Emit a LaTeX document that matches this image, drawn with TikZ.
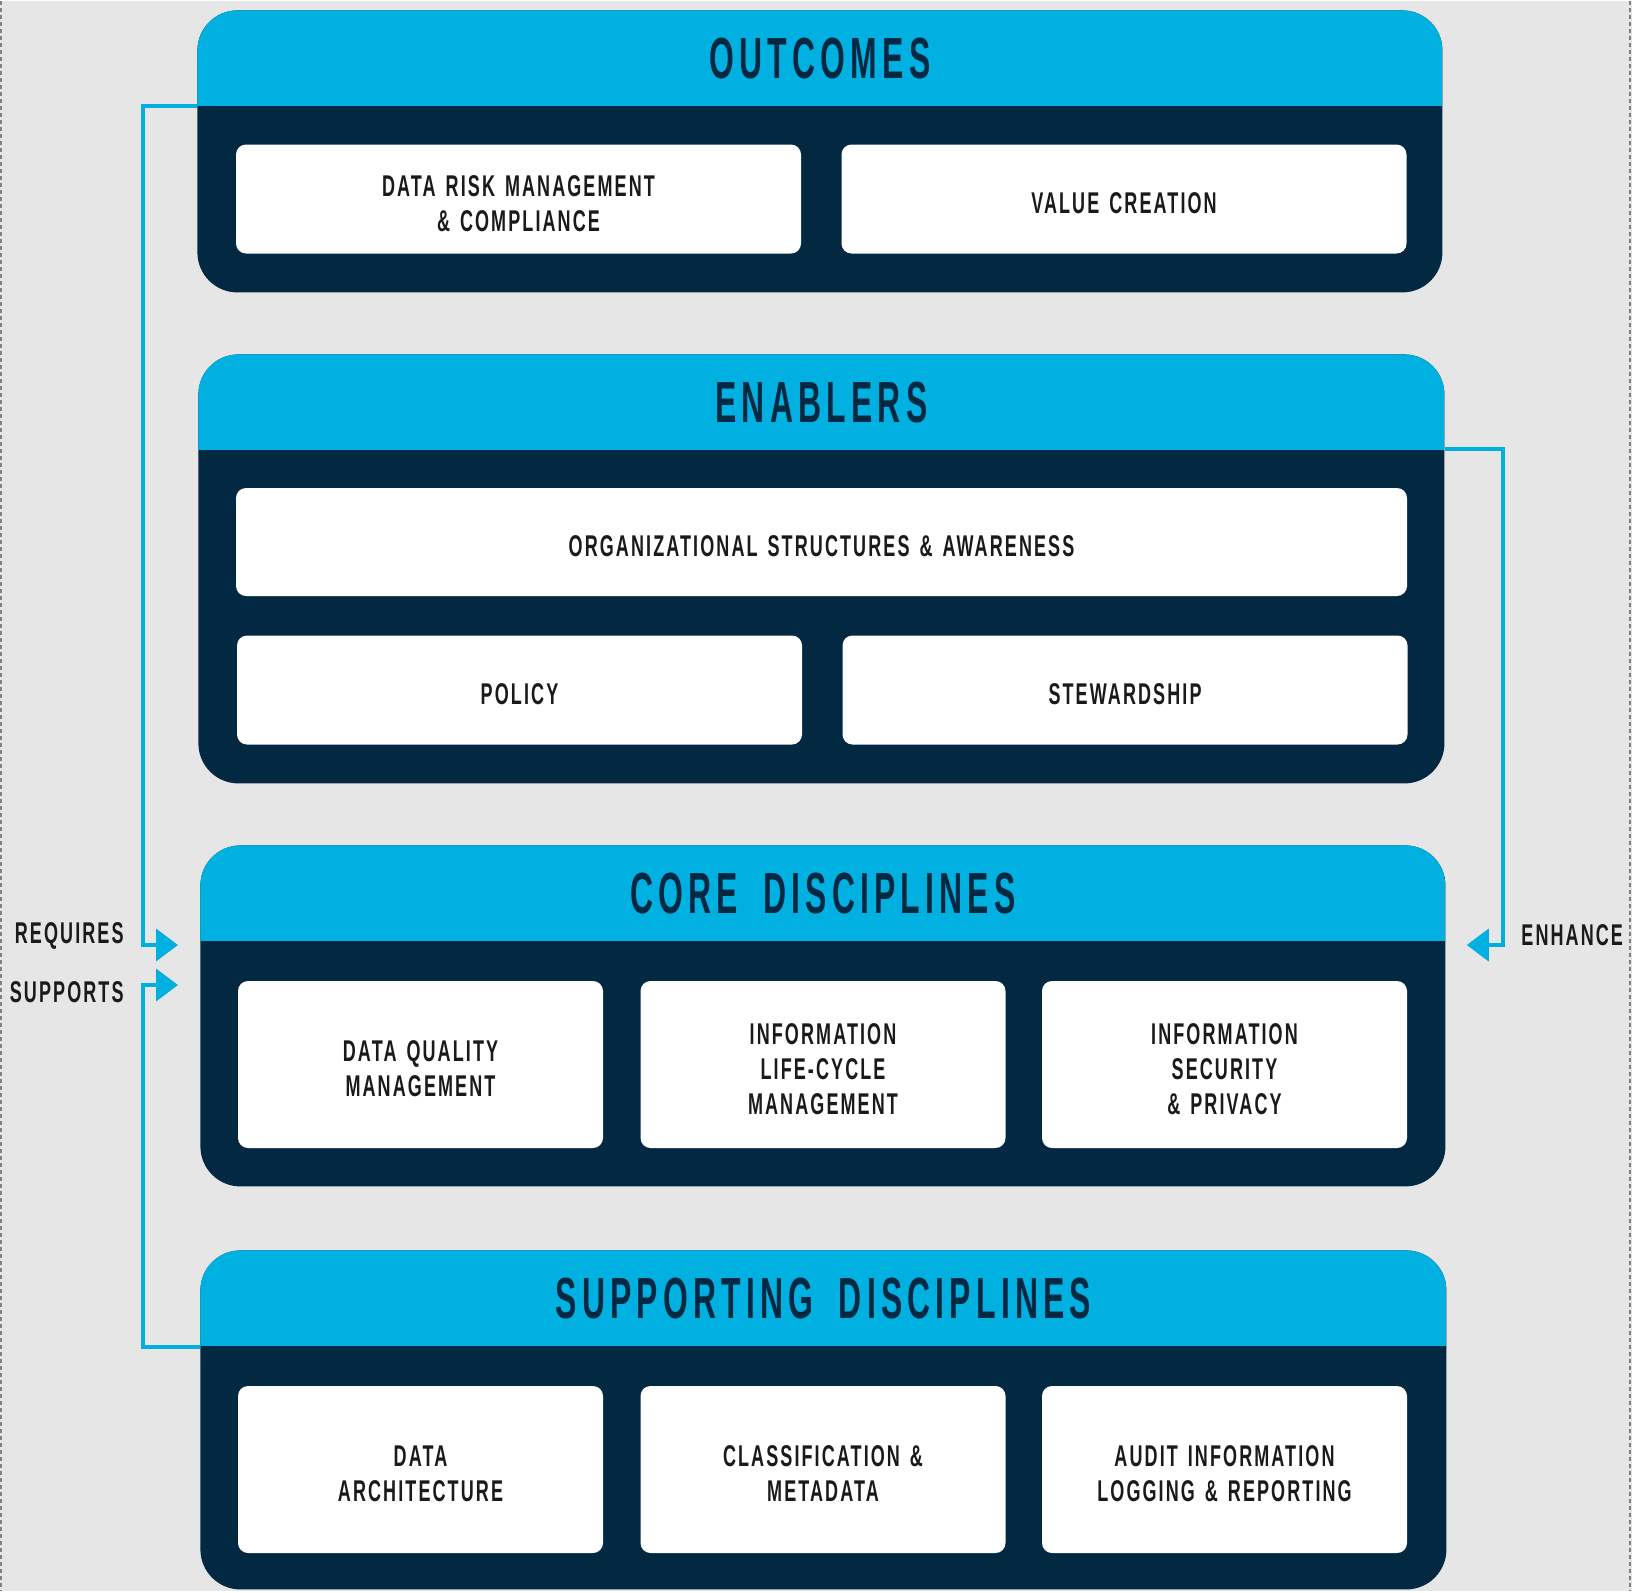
\documentclass[tikz,border=0pt]{standalone}
\usepackage{fontspec}
\usetikzlibrary{arrows.meta}
\newfontfamily\headfont{Liberation Sans}[FakeStretch=0.55,LetterSpace=9,WordSpace=1.8]
\newfontfamily\boxfont{Liberation Sans}[FakeStretch=0.6,LetterSpace=7,WordSpace=1.3]
\definecolor{skyband}{HTML}{00B0E0}
\definecolor{navy}{HTML}{022842}
\definecolor{paper}{HTML}{E6E6E6}
\definecolor{ink}{HTML}{1A1A1A}

\begin{document}
\begin{tikzpicture}[x=0.5pt,y=-0.5pt,
  panel/.style={fill=navy,rounded corners=20pt,inner sep=0pt,anchor=north west,
    path picture={\fill[skyband,sharp corners] (path picture bounding box.north west) rectangle ([yshift=-48pt]path picture bounding box.north east);}},
  title/.style={anchor=north,minimum height=48pt,inner sep=0pt,text=navy,font=\headfont\bfseries\fontsize{29pt}{31pt}\selectfont},
  card/.style={fill=white,rounded corners=5pt,align=center,inner sep=5pt,text=ink,font=\boxfont\bfseries\fontsize{15pt}{17.5pt}\selectfont,
    execute at begin node={\rule{0pt}{14.7pt}}},
  half/.style={card,text width=272pt,minimum width=282.5pt,minimum height=54.5pt},
  third/.style={card,text width=172pt,minimum width=182.5pt,minimum height=83.5pt},
  tag/.style={text=ink,inner sep=0pt,font=\boxfont\bfseries\fontsize{15pt}{17.5pt}\selectfont},
  flow/.style={draw=skyband,line width=2pt,-{Triangle[length=11pt,width=16pt]}},
  seam/.style={draw=gray,line width=1pt,dash pattern=on 2pt off 1.5pt}]

\fill[paper] (0,0) rectangle (1632,1590);
\draw[seam] (1,0) -- (1,1590);
\draw[seam] (1630,0) -- (1630,1590);

\path (197,9) node[panel,minimum width=622.5pt,minimum height=141pt] (out) {};
\path (out.north) node[title] (outhd) {OUTCOMES};
\path (518.5,198) node[half] (risk) {DATA RISK MANAGEMENT\\\& COMPLIANCE};
\path (1124,198) node[half] (value) {VALUE CREATION};

\path (198,353) node[panel,minimum width=623pt,minimum height=214.5pt] (enab) {};
\path (enab.north) node[title] (enabhd) {ENABLERS};
\path (821.5,541) node[card,text width=575pt,minimum width=585.5pt,minimum height=54pt] (org) {ORGANIZATIONAL STRUCTURES \& AWARENESS};
\path (519.5,689) node[half] (policy) {POLICY};
\path (1125,689) node[half] (steward) {STEWARDSHIP};

\path (200,844) node[panel,minimum width=622.5pt,minimum height=170.5pt] (core) {};
\path (core.north) node[title] (corehd) {CORE DISCIPLINES};
\path (420.5,1063.5) node[third] (quality) {DATA QUALITY\\MANAGEMENT};
\path (823,1063.5) node[third] (lifecycle) {INFORMATION\\LIFE-CYCLE\\MANAGEMENT};
\path (1224.5,1063.5) node[third] (security) {INFORMATION\\SECURITY\\\& PRIVACY};

\path (200,1249) node[panel,minimum width=623pt,minimum height=169.5pt] (supp) {};
\path (supp.north) node[title] (supphd) {SUPPORTING DISCIPLINES};
\path (420.5,1468.5) node[third] (arch) {DATA\\ARCHITECTURE};
\path (823,1468.5) node[third] (meta) {CLASSIFICATION \&\\METADATA};
\path (1224.5,1468.5) node[third] (audit) {AUDIT INFORMATION\\LOGGING \& REPORTING};

\path (124,935) node[tag,anchor=east] (req) {REQUIRES};
\path (124,991) node[tag,anchor=east] (sup) {SUPPORTS};
\path (1521,934) node[tag,anchor=west] (enh) {ENHANCE};

\draw[flow] ([yshift=-48pt]out.north west) -- ++(-54,0) |- ([xshift=-11pt,yshift=-50pt]core.north west);
\draw[flow] ([yshift=-48.5pt]supp.north west) -- ++(-57,0) |- ([xshift=-11pt,yshift=-70pt]core.north west);
\draw[flow] ([yshift=-47.5pt]enab.north east) -- ++(58,0) |- ([xshift=10.5pt,yshift=-50pt]core.north east);
\end{tikzpicture}
\end{document}
